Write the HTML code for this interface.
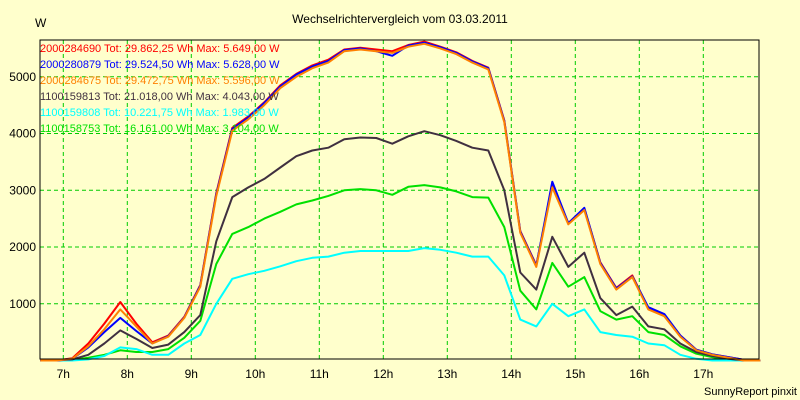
<!DOCTYPE html>
<html><head><meta charset="utf-8"><style>
body{margin:0;background:#ffffcc;}
svg{display:block;font-family:"Liberation Sans",sans-serif;}
</style></head><body>
<svg id="chart" width="800" height="400">
<rect x="0" y="0" width="800" height="400" fill="#ffffcc"/>
<text x="400" y="23" text-anchor="middle" font-size="12" fill="#000">Wechselrichtervergleich vom 03.03.2011</text>
<text x="35" y="27" font-size="12" fill="#000">W</text>
<text x="797" y="395" text-anchor="end" font-size="11" fill="#000">SunnyReport pinxit</text>
<g id="grid"></g><g id="axes"></g><g id="series"></g><g id="legend"></g>
<rect x="40" y="40" width="719" height="319" fill="none" stroke="#000" stroke-width="1"/>
</svg>
<script>
const yTicks=[1000,2000,3000,4000,5000];
const xTicks=[7,8,9,10,11,12,13,14,15,16,17];
const xTickLabels=["7h","8h","9h","10h","11h","12h","13h","14h","15h","16h","17h"];
const startHour=6.64, stepHour=0.25;
const seriesNames=["2000284690","2000280879","2000284675","1100159813","1100159808","1100158753"];
const seriesTot=["29.862,25","29.524,50","29.472,75","21.018,00","10.221,75","16.161,00"];
const seriesMax=["5.649,00","5.628,00","5.596,00","4.043,00","1.983,00","3.104,00"];
const seriesColors=["#ff0000","#0000ff","#ff8000","#403040","#00ffff","#00e000"];
const redVals=[0,0,40,300,650,1030,650,320,440,770,1330,2950,4100,4300,4550,4850,5050,5200,5300,5480,5510,5480,5450,5560,5620,5530,5430,5280,5160,4230,2280,1680,3080,2420,2680,1730,1280,1500,920,800,440,190,110,60,10,0];
const blueVals=[0,0,30,230,500,750,520,300,430,760,1320,2930,4080,4280,4540,4830,5040,5180,5280,5470,5500,5450,5370,5550,5600,5520,5420,5270,5150,4220,2270,1670,3150,2420,2690,1720,1270,1480,940,820,440,190,110,60,10,0];
const orangeVals=[0,0,30,250,550,900,600,300,420,750,1300,2900,4050,4250,4500,4800,5000,5150,5250,5450,5480,5450,5420,5530,5580,5500,5400,5250,5130,4200,2250,1650,3050,2400,2650,1700,1250,1470,900,780,420,180,100,50,0,0];
const darkVals=[0,0,20,100,300,530,380,220,280,500,800,2100,2880,3050,3200,3400,3600,3700,3750,3900,3930,3920,3820,3950,4040,3970,3870,3750,3700,3000,1550,1250,2180,1650,1900,1100,800,950,600,550,300,150,80,30,0,0];
const cyanVals=[0,0,0,20,80,230,200,100,100,300,450,1000,1440,1520,1580,1660,1750,1810,1830,1900,1930,1930,1930,1930,1980,1950,1900,1830,1830,1500,720,600,1000,780,900,500,450,420,300,270,100,30,0,0,0,0];
const greenVals=[0,0,10,50,100,180,150,150,200,400,700,1700,2230,2350,2500,2620,2750,2820,2900,3000,3020,3000,2920,3060,3090,3050,2980,2880,2870,2350,1230,900,1720,1300,1470,870,720,780,500,450,250,120,60,20,0,0];
const allSeries=[redVals,blueVals,orangeVals,darkVals,cyanVals,greenVals];
const NS="http://www.w3.org/2000/svg";
function xScale(h){return 63.3+(h-7)*64;}
function yScale(v){return 360.5-v*0.05675;}
const grid=document.getElementById('grid'),axes=document.getElementById('axes'),ser=document.getElementById('series'),leg=document.getElementById('legend');
function mk(tag,attrs,parent){const e=document.createElementNS(NS,tag);for(const k in attrs)e.setAttribute(k,attrs[k]);parent.appendChild(e);return e;}
yTicks.forEach(v=>{
  const l=mk('line',{x1:40,x2:759,y1:yScale(v),y2:yScale(v),stroke:'#00cc00','stroke-dasharray':'4,3'},grid);
  
  
  const t=mk('text',{x:36,y:yScale(v)+4,'text-anchor':'end','font-size':12,fill:'#000'},axes);
  t.textContent=v;
  
  
});
xTicks.forEach((h,i)=>{
  const l=mk('line',{x1:xScale(h),x2:xScale(h),y1:40,y2:359,stroke:'#00cc00','stroke-dasharray':'4,3'},grid);
  
  
  const t=mk('text',{x:xScale(h),y:378,'text-anchor':'middle','font-size':12,fill:'#000'},axes);
  t.textContent=xTickLabels[i];
  
  
});
[5,4,3,0,1,2].forEach(si=>{
  const vals=allSeries[si];
  const pts=vals.map((v,k)=>xScale(startHour+k*stepHour).toFixed(1)+','+yScale(v).toFixed(1)).join(' ');
  const p=mk('polyline',{points:pts,fill:'none',stroke:seriesColors[si],'stroke-width':2,'stroke-linejoin':'round'},ser);
  
  
});
seriesNames.forEach((n,i)=>{
  const t=mk('text',{x:40,y:52+i*16,'font-size':11,fill:seriesColors[i]},leg);
  t.textContent=n+' Tot: '+seriesTot[i]+' Wh Max: '+seriesMax[i]+' W';
  
  
});
</script>
</body></html>
